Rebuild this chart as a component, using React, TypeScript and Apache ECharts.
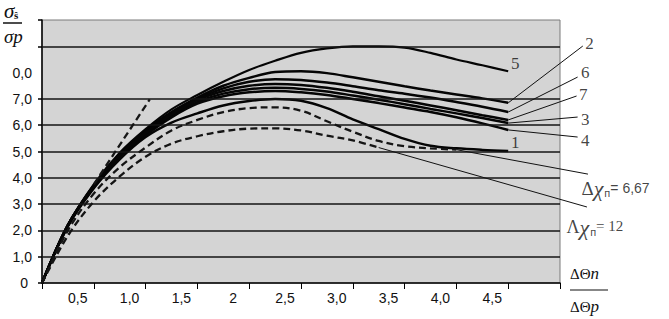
import React, { useEffect, useRef } from 'react';
import * as echarts from 'echarts';

const SANS = 'Liberation Sans';
const SERIF = 'Liberation Serif';

// x positions of the read-off points (ΔΘn/ΔΘp)
const xPoints = [0, 0.25, 0.5, 0.75, 1.0, 1.25, 1.5, 1.75, 2.0, 2.25, 2.5, 2.75, 3.0, 3.25, 3.5, 3.75, 4.0, 4.25, 4.5];

// solid curves σs/σp
const curve1 = [0, 2.15, 3.6, 4.7, 5.55, 6.1, 6.45, 6.75, 6.92, 7.0, 6.93, 6.65, 6.22, 5.85, 5.48, 5.22, 5.12, 5.06, 5.02];
const curve2 = [0, 2.2, 3.72, 4.9, 5.8, 6.5, 7.05, 7.5, 7.8, 8.02, 8.05, 7.98, 7.82, 7.65, 7.48, 7.32, 7.17, 7.02, 6.85];
const curve3 = [0, 2.2, 3.66, 4.82, 5.66, 6.35, 6.88, 7.2, 7.37, 7.42, 7.38, 7.28, 7.13, 6.97, 6.8, 6.62, 6.45, 6.27, 6.08];
const curve4 = [0, 2.18, 3.64, 4.8, 5.62, 6.3, 6.82, 7.1, 7.25, 7.3, 7.25, 7.15, 7.0, 6.84, 6.67, 6.5, 6.3, 6.07, 5.82];
const curve5 = [0, 2.2, 3.75, 4.95, 5.85, 6.6, 7.15, 7.65, 8.1, 8.45, 8.75, 8.92, 9.0, 9.0, 8.95, 8.75, 8.5, 8.28, 8.05];
const curve6 = [0, 2.2, 3.7, 4.88, 5.75, 6.45, 7.0, 7.4, 7.65, 7.75, 7.72, 7.62, 7.48, 7.33, 7.2, 7.05, 6.88, 6.7, 6.5];
const curve7 = [0, 2.2, 3.68, 4.85, 5.7, 6.4, 6.95, 7.3, 7.5, 7.57, 7.53, 7.42, 7.27, 7.1, 6.93, 6.75, 6.57, 6.38, 6.2];

// dashed curves (Δχn = 6.67 and Δχn = 12)
const dashed667 = [0, 2.0, 3.4, 4.4, 5.15, 5.8, 6.2, 6.5, 6.65, 6.68, 6.55, 6.15, 5.75, 5.4, 5.2, 5.12, 5.07];
const dashed12 = [0, 1.8, 3.1, 4.05, 4.8, 5.3, 5.58, 5.77, 5.87, 5.88, 5.8, 5.6, 5.42, 5.15];

// steep dashed tangent near the origin
const tangentLine = [[0.5, 3.75], [1.04, 6.98]];

// leader line ends (outside the plot) and their labels
const curveLabels = ['2', '6', '7', '3', '4'];
const leaderEnds = [[5.22, 9.01], [5.17, 7.83], [5.16, 7.11], [5.17, 6.31], [5.17, 5.55]];
const leaderLabelOffsets = [[0, -3], [1, -5], [0, -2], [1, 2], [1, 3]];
const leader667 = [[4.0, 5.07], [5.27, 4.14]];
const leader12 = [[3.25, 5.15], [5.26, 2.89]];

// axis ticks / labels
const xTickLabels = ['', '0,5', '1,0', '1,5', '2', '2,5', '3,0', '3,5', '4,0', '4,5', ''];
const yTickLabels = ['0', '1,0', '2,0', '3,0', '4,0', '5,0', '6,0', '7,0', '0,0', '', ''];
const yTickValues = [0, 1, 2, 3, 4, 5, 6, 7, 9, 10];
const gridLineValues = [1, 2, 3, 4, 5, 6, 7, 9];

const pairs = (ys: number[]) => ys.map((y, i) => [xPoints[i], y]);

export default function App() {
  const ref = useRef<HTMLDivElement>(null);
  useEffect(() => {
    const chart = echarts.init(ref.current as HTMLDivElement, null, { renderer: 'svg' });

    const solid = (name: string, ys: number[], width = 2.5) => ({
      name,
      type: 'line',
      data: pairs(ys),
      smooth: 0.35,
      showSymbol: false,
      symbol: 'none',
      z: 3,
      lineStyle: { color: '#050505', width },
    });
    const dashed = (name: string, ys: number[]) => ({
      name,
      type: 'line',
      data: pairs(ys),
      smooth: 0.35,
      showSymbol: false,
      symbol: 'none',
      z: 3,
      lineStyle: { color: '#151515', width: 2.3, type: [7, 4] },
    });

    const curves = [curve2, curve6, curve7, curve3, curve4];
    const leaderSegments: number[][] = [
      ...curves.map((c, i) => [xPoints[c.length - 1], c[c.length - 1], leaderEnds[i][0], leaderEnds[i][1]]),
      [leader667[0][0], leader667[0][1], leader667[1][0], leader667[1][1]],
      [leader12[0][0], leader12[0][1], leader12[1][0], leader12[1][1]],
    ];

    const numLabel = (text: string, extra: any) => ({
      show: true,
      formatter: text,
      fontFamily: SERIF,
      fontSize: 17,
      color: '#111',
      ...extra,
    });

    const labelData: any[] = [
      ...leaderEnds.map((p, i) => ({
        value: p,
        label: numLabel(curveLabels[i], { position: 'right', distance: 2, offset: leaderLabelOffsets[i] }),
      })),
      {
        value: [xPoints[curve5.length - 1], curve5[curve5.length - 1]],
        label: numLabel('5', { position: 'top', distance: 0, offset: [7, 1] }),
      },
      {
        value: [xPoints[curve1.length - 1], curve1[curve1.length - 1]],
        label: numLabel('1', { position: 'top', distance: 0, offset: [7, 1] }),
      },
      {
        value: leader667[1],
        label: {
          show: true,
          position: [-6, 4],
          formatter: '{d|Δ}{c|χ}{s|п}{e|= 6,67}',
          rich: {
            d: { fontFamily: SERIF, fontSize: 19, color: '#111' },
            c: { fontFamily: SERIF, fontStyle: 'italic', fontSize: 22, color: '#111' },
            s: { fontFamily: SANS, fontSize: 11, color: '#111', padding: [9, 0, 0, 1] },
            e: { fontFamily: SANS, fontSize: 14, color: '#111', padding: [0, 0, 2, 0] },
          },
        },
      },
      {
        value: leader12[1],
        label: {
          show: true,
          position: [-20, 10],
          formatter: '{d|Λ}{c|χ}{s|п}{e|= 12}',
          rich: {
            d: { fontFamily: SERIF, fontSize: 18, color: '#111' },
            c: { fontFamily: SERIF, fontStyle: 'italic', fontSize: 22, color: '#111' },
            s: { fontFamily: SANS, fontSize: 11, color: '#111', padding: [9, 0, 0, 1] },
            e: { fontFamily: SERIF, fontSize: 15, color: '#111', padding: [0, 0, 2, 0] },
          },
        },
      },
    ];

    chart.setOption({
      animation: false,
      backgroundColor: '#ffffff',
      grid: {
        left: 42,
        right: 109,
        top: 20,
        bottom: 36,
        show: true,
        backgroundColor: '#d4d4d4',
        borderColor: '#7a7a7a',
        borderWidth: 1,
        outerBoundsMode: 'none',
      },
      xAxis: {
        type: 'value',
        min: 0,
        max: 5,
        interval: 0.5,
        axisLine: { show: true, onZero: false, lineStyle: { color: '#000', width: 1.5 } },
        axisTick: { show: true, length: 6, lineStyle: { color: '#000', width: 1 } },
        splitLine: { show: false },
        axisLabel: {
          show: true,
          margin: 8,
          fontFamily: SANS,
          fontSize: 14,
          color: '#111',
          padding: [0, 32, 0, 0],
          showMinLabel: true,
          showMaxLabel: true,
          formatter: (v: number) => xTickLabels[Math.round(v / 0.5)] ?? '',
        },
      },
      yAxis: {
        type: 'value',
        min: 0,
        max: 10,
        interval: 1,
        axisLine: { show: true, onZero: false, lineStyle: { color: '#000', width: 1.5 } },
        axisTick: { show: true, length: 4, customValues: yTickValues, lineStyle: { color: '#000', width: 1.5 } },
        splitLine: { show: false },
        axisLabel: {
          show: true,
          margin: 10,
          fontFamily: SANS,
          fontSize: 14,
          color: '#111',
          showMinLabel: true,
          showMaxLabel: true,
          formatter: (v: number) => {
            const t = yTickLabels[Math.round(v)] ?? '';
            return t === '0' ? '{z|0}' : t;
          },
          rich: { z: { fontFamily: SANS, fontSize: 14, color: '#111', padding: [0, 4, 0, 0] } },
        },
      },
      graphic: [
        {
          type: 'text',
          left: 4,
          top: 0,
          style: { text: 'σ', fontFamily: SERIF, fontStyle: 'italic', fontSize: 21, lineHeight: 14, fill: '#111' },
        },
        {
          type: 'text',
          left: 14,
          top: 9,
          style: { text: 'ŝ', fontFamily: SERIF, fontWeight: 'bold', fontSize: 11, fill: '#111' },
        },
        { type: 'line', shape: { x1: 3, y1: 23, x2: 22, y2: 23 }, style: { stroke: '#111', lineWidth: 1.5 } },
        {
          type: 'text',
          left: 4,
          top: 27,
          style: { text: 'σp', fontFamily: SERIF, fontStyle: 'italic', fontSize: 19, fill: '#111' },
        },
        {
          type: 'text',
          left: 570,
          top: 265,
          style: {
            text: '{a|ΔΘ}{b|n}',
            rich: {
              a: { fontFamily: SERIF, fontSize: 15, fill: '#111' },
              b: { fontFamily: SERIF, fontStyle: 'italic', fontSize: 17, fill: '#111' },
            },
          },
        },
        { type: 'line', shape: { x1: 570, y1: 290, x2: 608, y2: 290 }, style: { stroke: '#111', lineWidth: 1.2 } },
        {
          type: 'text',
          left: 570,
          top: 298,
          style: {
            text: '{a|ΔΘ}{b|p}',
            rich: {
              a: { fontFamily: SERIF, fontSize: 15, fill: '#111' },
              b: { fontFamily: SERIF, fontStyle: 'italic', fontSize: 17, fill: '#111' },
            },
          },
        },
      ],
      series: [
        {
          name: 'grid',
          type: 'line',
          data: [],
          z: 1,
          markLine: {
            silent: true,
            symbol: 'none',
            label: { show: false },
            lineStyle: { color: '#151515', width: 1.5, type: 'solid' },
            data: gridLineValues.map((v) => ({ yAxis: v })),
          },
        },
        solid('1', curve1),
        solid('2', curve2),
        solid('3', curve3),
        solid('4', curve4),
        solid('5', curve5, 2.2),
        solid('6', curve6),
        solid('7', curve7),
        dashed('Δχn=6,67', dashed667),
        dashed('Δχn=12', dashed12),
        {
          name: 'tangent',
          type: 'line',
          data: tangentLine,
          showSymbol: false,
          symbol: 'none',
          z: 3,
          lineStyle: { color: '#151515', width: 2.3, type: [7, 4] },
        },
        {
          name: 'leaders',
          type: 'custom',
          clip: false,
          z: 4,
          silent: true,
          data: leaderSegments,
          renderItem: (params: any, api: any) => {
            const p1 = api.coord([api.value(0), api.value(1)]);
            const p2 = api.coord([api.value(2), api.value(3)]);
            return {
              type: 'line',
              shape: { x1: p1[0], y1: p1[1], x2: p2[0], y2: p2[1] },
              style: { stroke: '#111', lineWidth: 1 },
            };
          },
        },
        {
          name: 'labels',
          type: 'scatter',
          symbol: 'circle',
          symbolSize: 1,
          clip: false,
          z: 5,
          silent: true,
          itemStyle: { color: 'rgba(0,0,0,0)' },
          data: labelData,
        },
      ],
    });
    return () => chart.dispose();
  }, []);
  return (
    <div
      ref={ref}
      style={{ position: 'fixed', left: 0, top: 0, width: 669, height: 319, background: '#fff' }}
    />
  );
}
